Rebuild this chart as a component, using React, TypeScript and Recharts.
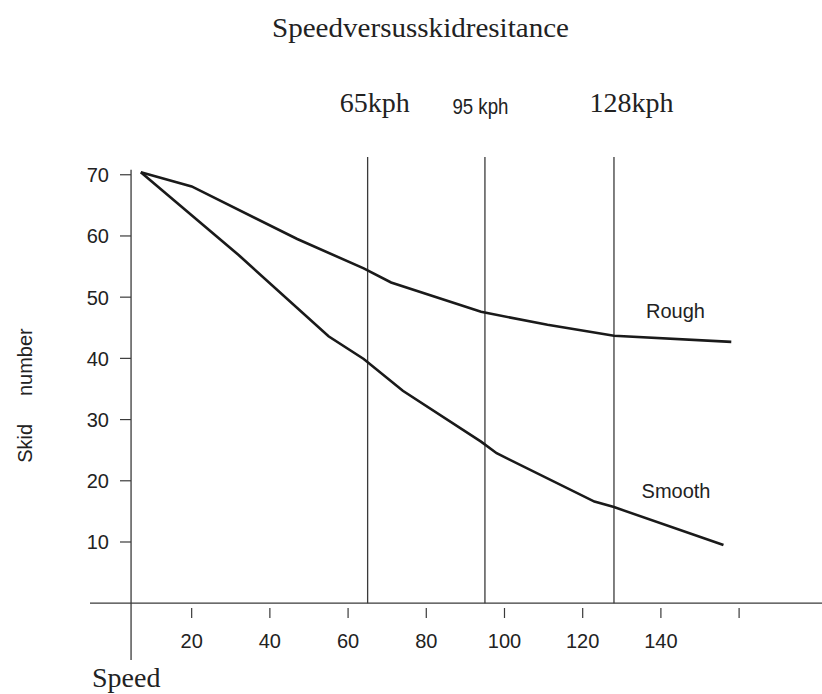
import React from 'react';
import { LineChart, Line, XAxis, YAxis, ReferenceLine } from 'recharts';

// values
const roughSpeed = [7, 20, 47, 64, 71, 94, 111, 128, 158];
const roughSkid = [70.4, 68.1, 59.5, 54.7, 52.4, 47.6, 45.5, 43.7, 42.7];
const smoothSpeed = [7, 32, 55, 64, 74, 94, 98, 123, 128, 156];
const smoothSkid = [70.4, 56.9, 43.6, 39.9, 34.7, 26.4, 24.5, 16.6, 15.7, 9.5];

const xTicks = [20, 40, 60, 80, 100, 120, 140, 160];
const xTickLabels = ['20', '40', '60', '80', '100', '120', '140', ''];
const yTicks = [10, 20, 30, 40, 50, 60, 70];
const markerSpeeds = [65, 95, 128];
const markerLabels = ['65kph', '95 kph', '128kph'];

const X_DOMAIN: [number, number] = [-6.0, 181.2];
const Y_DOMAIN: [number, number] = [-9.28, 72.9];
const Y_AXIS_AT = 4.5;
const Y_AXIS_TOP = 70.8;

const SERIF = '"Liberation Serif", "Times New Roman", serif';
const SANS = '"Liberation Sans", Arial, sans-serif';
const INK = '#1a1a1a';
const AXIS = '#3a3a3a';

const roughData = roughSpeed.map((speed, i) => ({ speed, skid: roughSkid[i] }));
const smoothData = smoothSpeed.map((speed, i) => ({ speed, skid: smoothSkid[i] }));

const XTick = (props: any) => {
  const { x, payload } = props;
  const idx = xTicks.indexOf(payload.value);
  return (
    <g>
      <line x1={x} y1={608} x2={x} y2={618} stroke={AXIS} strokeWidth={1.2} />
      <text x={x} y={648} textAnchor="middle" fontSize={20} fontFamily={SANS} fill="#222">
        {xTickLabels[idx]}
      </text>
    </g>
  );
};

const YTick = (props: any) => {
  const { y, payload } = props;
  return (
    <g>
      <line x1={120} y1={y} x2={131} y2={y} stroke={AXIS} strokeWidth={1.2} />
      <text x={109} y={y + 7.5} textAnchor="end" fontSize={20} fontFamily={SANS} fill="#222">
        {payload.value}
      </text>
    </g>
  );
};

const markerLabel = (i: number) => (props: any) => {
  const vx = props.viewBox ? props.viewBox.x : 0;
  const narrow = i === 1;
  const dx = [7, -4.5, 17.5][i];
  if (narrow) {
    return (
      <text
        x={vx + dx}
        y={114}
        textAnchor="middle"
        fontSize={22}
        fontFamily={SANS}
        fill="#222"
        textLength={56}
        lengthAdjust="spacingAndGlyphs"
      >
        {markerLabels[i]}
      </text>
    );
  }
  return (
    <text x={vx + dx} y={111.5} textAnchor="middle" fontSize={28} fontFamily={SERIF} fill="#222">
      {markerLabels[i]}
    </text>
  );
};

const seriesLabel = (text: string, at: number, dx: number, dy: number) => (props: any) => {
  if (props.index !== at) return null;
  return (
    <text x={props.x + dx} y={props.y + dy} fontSize={20} fontFamily={SANS} fill="#222">
      {text}
    </text>
  );
};

export default function App() {
  return (
    <div style={{ position: 'absolute', left: 0, top: 0 }}>
      <LineChart width={822} height={694} margin={{ top: 157, right: 0, bottom: 4, left: 30 }}>
        <XAxis
          type="number"
          dataKey="speed"
          domain={X_DOMAIN}
          ticks={xTicks}
          allowDataOverflow
          axisLine={false}
          tickLine={false}
          height={30}
          tick={<XTick />}
        />
        <YAxis
          type="number"
          domain={Y_DOMAIN}
          ticks={yTicks}
          allowDataOverflow
          axisLine={false}
          tickLine={false}
          width={60}
          tick={<YTick />}
        />
        <ReferenceLine y={0} stroke={AXIS} strokeWidth={1.3} />
        <ReferenceLine
          segment={[{ x: Y_AXIS_AT, y: Y_AXIS_TOP }, { x: Y_AXIS_AT, y: Y_DOMAIN[0] }]}
          stroke={AXIS}
          strokeWidth={1.3}
        />
        {markerSpeeds.map((s, i) => (
          <ReferenceLine
            key={s}
            segment={[{ x: s, y: Y_DOMAIN[1] }, { x: s, y: 0 }]}
            stroke={AXIS}
            strokeWidth={1.3}
            label={markerLabel(i)}
          />
        ))}
        <Line
          data={roughData}
          dataKey="skid"
          type="linear"
          stroke={INK}
          strokeWidth={2.6}
          dot={false}
          isAnimationActive={false}
          label={seriesLabel('Rough', 7, 32, -17.4)}
        />
        <Line
          data={smoothData}
          dataKey="skid"
          type="linear"
          stroke={INK}
          strokeWidth={2.6}
          dot={false}
          isAnimationActive={false}
          label={seriesLabel('Smooth', 8, 27.6, -9)}
        />
        <text
          x={420.5}
          y={37}
          textAnchor="middle"
          fontSize={27}
          fontFamily={SERIF}
          fill="#222"
          textLength={297}
          lengthAdjust="spacingAndGlyphs"
        >
          Speedversusskidresitance
        </text>
        <text x={92} y={687} fontSize={28} fontFamily={SERIF} fill="#222">
          Speed
        </text>
        <text
          x={32}
          y={395.5}
          transform="rotate(-90, 32, 395.5)"
          textAnchor="middle"
          fontSize={20}
          fontFamily={SANS}
          fill="#222"
        >
          {'Skid\u00a0\u00a0\u00a0\u00a0\u00a0number'}
        </text>
      </LineChart>
    </div>
  );
}
